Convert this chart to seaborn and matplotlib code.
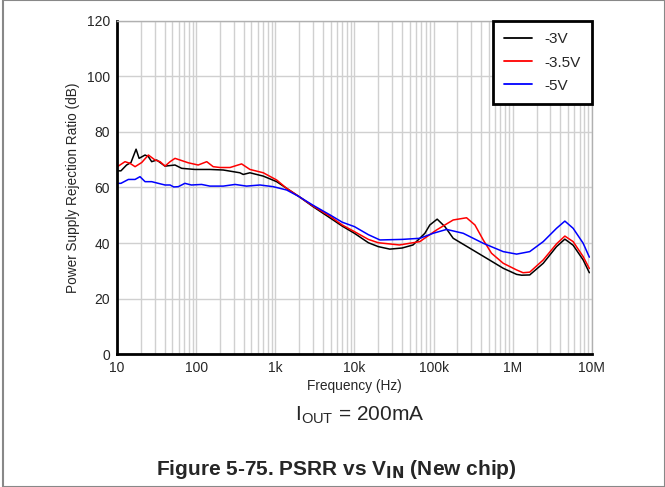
"""
PSRR vs VIN chart (IOUT = 200mA)
"""
import matplotlib
matplotlib.use("Agg")
import matplotlib.pyplot as plt
import seaborn as sns
import numpy as np
import pandas as pd
from matplotlib.patches import Rectangle

# -3V curve (frequency in Hz, PSRR in dB)
f_3v = [10, 11.2, 13.2, 15, 17.4, 19, 22.6, 24.9, 27.4, 31.7, 40.4, 54, 65.6,
        96.5, 149, 220, 357, 393, 478, 705, 1040, 1390, 2e3, 3e3, 5e3, 7e3,
        1e4, 1.5e4, 2e4, 2.8e4, 4e4, 5.5e4, 6.7e4, 7.76e4, 8.97e4, 1.11e5,
        1.39e5, 1.77e5, 2.88e5, 4.68e5, 7.59e5, 1.12e6, 1.3e6, 1.64e6, 2.43e6,
        3.58e6, 4.56e6, 5.8e6, 7.77e6, 9.3e6]
db_3v = [66, 66, 68.1, 69, 73.8, 70.5, 71.7, 71.1, 69.3, 69.9, 67.7, 68.1, 66.9,
         66.5, 66.5, 66.3, 65.3, 64.7, 65.3, 64.1, 62.1, 59.7, 56.7, 53.1, 48.9,
         46.1, 43.5, 40.1, 38.7, 37.8, 38.2, 39.3, 41.7, 43.5, 46.5, 48.6, 45.9,
         41.7, 38.1, 34.5, 30.9, 28.7, 28.4, 28.5, 32.7, 38.7, 41.4, 39.2, 33.9,
         29.3]

# -3.5V curve
f_35v = [10, 12.6, 14.6, 16.9, 20.5, 24.9, 30.2, 35, 40.4, 46.8, 54, 79.5, 106,
         136, 164, 200, 268, 375, 478, 705, 1040, 1390, 2e3, 3e3, 5e3, 7e3,
         1e4, 1.5e4, 2e4, 3.7e4, 6.7e4, 1.09e5, 1.77e5, 2.61e5, 3.33e5, 4.24e5,
         5.4e5, 7.59e5, 1.12e6, 1.35e6, 1.64e6, 2.43e6, 3.58e6, 4.56e6, 5.8e6,
         7.77e6, 9.3e6]
db_35v = [67.4, 69.3, 68.7, 67.5, 69, 71.7, 69.9, 69.3, 67.7, 69.3, 70.5, 68.9,
          68.1, 69.3, 67.5, 67.2, 67.2, 68.5, 66.5, 65.3, 62.7, 59.7, 56.7, 53.3,
          49.5, 46.5, 44.1, 41.3, 40.1, 39.3, 40.5, 44.7, 48.3, 49.1, 46.5, 41.1,
          36.3, 32.7, 30.3, 29.3, 29.5, 33.9, 39.7, 42.5, 40.5, 35.1, 30.8]

# -5V curve
f_5v = [10, 11.2, 13.9, 16.9, 19.5, 22.6, 27.4, 33.2, 40.4, 46.8, 52, 59.5, 72,
        87, 117, 149, 220, 310, 433, 640, 940, 1390, 2e3, 3e3, 5e3, 7e3, 1e4,
        1.5e4, 2.1e4, 4e4, 6.7e4, 9.88e4, 1.46e5, 2.37e5, 4.24e5, 7.59e5,
        1.12e6, 1.64e6, 2.43e6, 3.58e6, 4.56e6, 5.8e6, 7.77e6, 9.3e6]
db_5v = [61.5, 61.5, 62.9, 62.9, 63.9, 62.1, 62.1, 61.5, 60.9, 60.9, 60.2, 60.3,
         61.5, 60.9, 61.1, 60.5, 60.5, 61.1, 60.5, 60.9, 60.3, 59.1, 56.7, 53.6,
         50, 47.5, 45.9, 43, 41.1, 41.3, 41.7, 43.5, 44.9, 43.5, 39.9, 36.9,
         36, 36.9, 40.5, 45.3, 47.9, 45.3, 39.9, 34.9]

labels = ['-3V', '-3.5V', '-5V']
colors = ['black', 'red', 'blue']
xtick_vals = [10, 100, 1e3, 1e4, 1e5, 1e6, 1e7]
xtick_labels = ['10', '100', '1k', '10k', '100k', '1M', '10M']
ytick_vals = [0, 20, 40, 60, 80, 100, 120]

df = pd.concat([
    pd.DataFrame({'freq': f_3v, 'psrr': db_3v, 'vin': labels[0]}),
    pd.DataFrame({'freq': f_35v, 'psrr': db_35v, 'vin': labels[1]}),
    pd.DataFrame({'freq': f_5v, 'psrr': db_5v, 'vin': labels[2]}),
])

sns.set_style("white")
plt.rcParams['font.family'] = ['Liberation Sans', 'DejaVu Sans']

fig = plt.figure(figsize=(6.65, 4.87), dpi=100)
ax = fig.add_axes([0.176, 0.273, 0.714, 0.684])

sns.lineplot(data=df, x='freq', y='psrr', hue='vin', palette=colors,
             hue_order=labels, ax=ax, linewidth=1.1, sort=False, estimator=None)

ax.set_xscale('log')
ax.set_xlim(10, 1e7)
ax.set_ylim(0, 120)
ax.set_xticks(xtick_vals)
ax.set_xticklabels(xtick_labels)
ax.set_yticks(ytick_vals)
ax.grid(True, which='both', axis='x', color='#d0d0d0', linewidth=1)
ax.grid(True, which='major', axis='y', color='#d0d0d0', linewidth=1)
ax.set_axisbelow(True)
ax.tick_params(axis='both', which='both', length=0, labelsize=10, pad=5)
ax.minorticks_on()
ax.tick_params(axis='y', which='minor', left=False)

for side in ['left', 'bottom']:
    ax.spines[side].set_color('black')
    ax.spines[side].set_linewidth(2)
for side in ['top', 'right']:
    ax.spines[side].set_color('#b0b0b0')
    ax.spines[side].set_linewidth(1)

ax.set_xlabel('Frequency (Hz)', fontsize=9.9, labelpad=3)
ax.set_ylabel('Power Supply Rejection Ratio (dB)', fontsize=9.8, labelpad=5)

leg = ax.legend(loc='upper right', borderaxespad=0, fontsize=11,
                handlelength=1.8, handletextpad=0.8, labelspacing=0.6,
                borderpad=0.75, fancybox=False, framealpha=1)
leg.get_frame().set_edgecolor('black')
leg.get_frame().set_linewidth(2)
for line in leg.get_lines():
    line.set_linewidth(1.3)

fig.text(0.541, 0.148, r'I$_\mathregular{OUT}$ = 200mA', ha='center',
         va='center', fontsize=15)
fig.text(0.505, 0.035, r'Figure 5-75. PSRR vs V$_\mathbf{IN}$ (New chip)',
         ha='center', va='center', fontsize=15, fontweight='bold')

fig.patches.append(Rectangle((0.005, 0), 0.995, 0.999, transform=fig.transFigure,
                             fill=False, edgecolor='#888888', linewidth=1.5))

fig.savefig('out.png', dpi=100)
